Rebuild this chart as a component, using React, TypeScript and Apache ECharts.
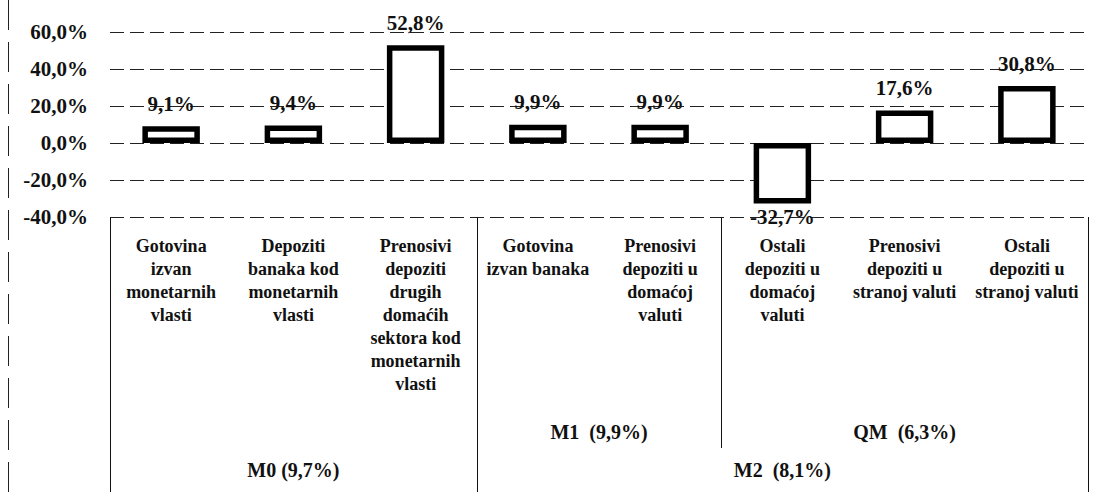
import React, { useEffect, useRef } from 'react';
import * as echarts from 'echarts';

const categories = [
  'Gotovina\nizvan\nmonetarnih\nvlasti',
  'Depoziti\nbanaka kod\nmonetarnih\nvlasti',
  'Prenosivi\ndepoziti\ndrugih\ndomaćih\nsektora kod\nmonetarnih\nvlasti',
  'Gotovina\nizvan banaka',
  'Prenosivi\ndepoziti u\ndomaćoj\nvaluti',
  'Ostali\ndepoziti u\ndomaćoj\nvaluti',
  'Prenosivi\ndepoziti u\nstranoj valuti',
  'Ostali\ndepoziti u\nstranoj valuti',
];
const values = [9.1, 9.4, 52.8, 9.9, 9.9, -32.7, 17.6, 30.8];
const yMin = -40;
const yMax = 60;
const yInterval = 20;

// group labels: first/last category index, row level (1 = upper row, 2 = lower row)
const groupNames = ['M0 (9,7%)', 'M1  (9,9%)', 'QM  (6,3%)', 'M2  (8,1%)'];
const groupFrom = [0, 3, 5, 3];
const groupTo = [2, 4, 7, 7];
const groupLevel = [2, 1, 1, 2];
// boundaries (index of category on the left side of the boundary, -1 = left edge) and level they reach
const boundaryAfter = [-1, 2, 4, 7];
const boundaryLevel = [2, 2, 1, 2];

const FONT = 'Times New Roman, Liberation Serif, DejaVu Serif, serif';
const fmt = (v: number) => v.toFixed(1).replace('.', ',') + '%';

export default function App() {
  const ref = useRef<HTMLDivElement>(null);
  useEffect(() => {
    if (!ref.current) return;
    const chart = echarts.init(ref.current, undefined, { renderer: 'svg' });
    const option: any = {
      animation: false,
      backgroundColor: '#fff',
      textStyle: { fontFamily: FONT, color: '#000' },
      grid: { left: 110, right: 13, top: 32, bottom: 279, outerBoundsMode: 'none' },
      xAxis: {
        type: 'category',
        data: categories,
        axisLine: { show: false },
        axisTick: { show: false },
        axisLabel: {
          interval: 0,
          margin: 17,
          fontFamily: FONT,
          fontWeight: 'bold',
          fontSize: 18,
          lineHeight: 23,
          color: '#111',
          verticalAlign: 'top',
          align: 'center',
        },
        splitLine: { show: false },
      },
      yAxis: {
        type: 'value',
        min: yMin,
        max: yMax,
        interval: yInterval,
        axisLine: { show: false },
        axisTick: { show: false },
        axisLabel: {
          margin: 22,
          fontFamily: FONT,
          fontWeight: 'bold',
          fontSize: 21,
          color: '#111',
          formatter: (v: number) => fmt(v),
        },
        splitLine: { show: true, lineStyle: { color: '#222', width: 1, type: [14, 6] } },
      },
      series: [
        {
          type: 'bar',
          barWidth: '47%',
          data: values.map((v) => ({
            value: v,
            label: v < 0 ? { position: 'bottom', distance: 3 } : { position: 'top' },
          })),
          itemStyle: { color: '#fff', borderColor: '#000', borderWidth: 5.5 },
          label: {
            show: true,
            distance: 12,
            fontFamily: FONT,
            fontWeight: 'bold',
            fontSize: 21,
            color: '#111',
            formatter: (p: any) => fmt(p.value),
          },
        },
      ],
    };
    chart.setOption(option);

    const cx = (i: number) => chart.convertToPixel({ xAxisIndex: 0 }, i) as number;
    const band = cx(1) - cx(0);
    const yBottom = chart.convertToPixel({ yAxisIndex: 0 }, yMin) as number;
    const levelY = [0, yBottom + 215, yBottom + 253];
    const levelEnd = [0, yBottom + 231, yBottom + 275];
    const elements: any[] = [];
    boundaryAfter.forEach((b, k) => {
      const x = Math.round(cx(b < 0 ? 0 : b) + (b < 0 ? -band / 2 : band / 2)) + 0.5;
      elements.push({
        type: 'line',
        shape: { x1: x, y1: yBottom, x2: x, y2: levelEnd[boundaryLevel[k]] },
        style: { stroke: '#111', lineWidth: 1 },
      });
    });
    groupNames.forEach((name, k) => {
      const x = (cx(groupFrom[k]) + cx(groupTo[k])) / 2;
      elements.push({
        type: 'text',
        x,
        y: levelY[groupLevel[k]],
        style: {
          text: name,
          fontFamily: FONT,
          fontWeight: 'bold',
          fontSize: 20,
          fill: '#111',
          align: 'center',
          verticalAlign: 'middle',
        },
      });
    });
    elements.push({
      type: 'line',
      shape: { x1: 8.5, y1: 0, x2: 8.5, y2: 496 },
      style: { stroke: '#222', lineWidth: 1, lineDash: [30, 12] },
    });
    chart.setOption({ graphic: { elements } });

    return () => chart.dispose();
  }, []);
  return (
    <div
      ref={ref}
      style={{ position: 'fixed', left: 0, top: 0, width: 1101, height: 496 }}
    />
  );
}
